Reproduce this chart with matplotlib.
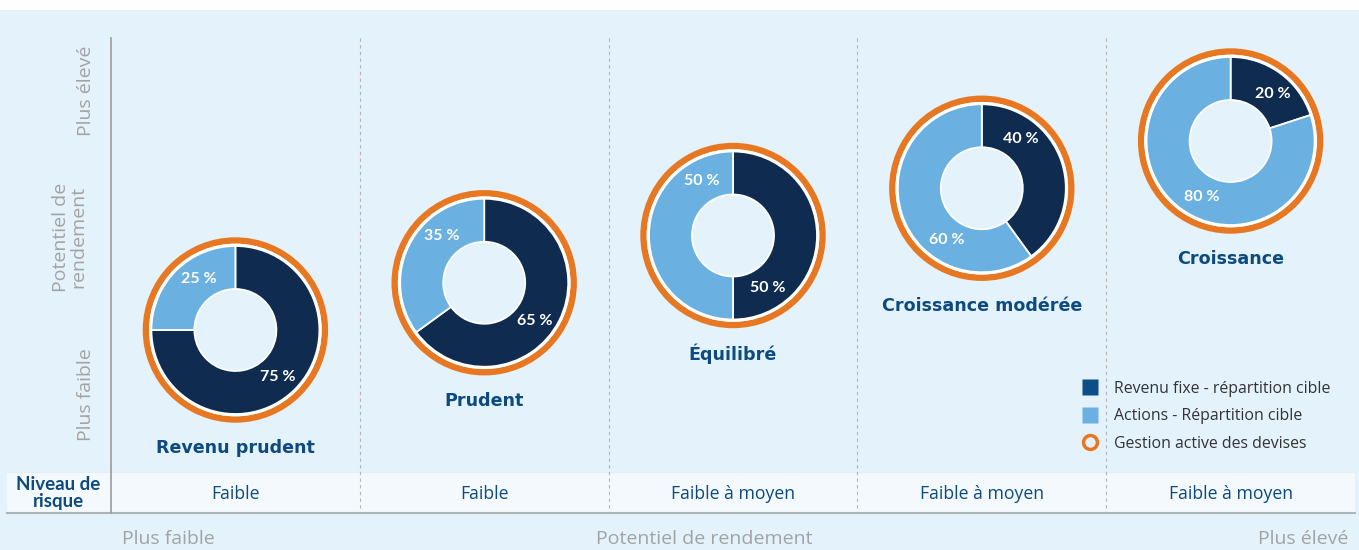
import matplotlib
matplotlib.use("Agg")
import matplotlib.pyplot as plt
import numpy as np
from matplotlib.patches import Circle, Rectangle
from matplotlib.lines import Line2D

# data
profiles = ["Revenu prudent", "Prudent", "Équilibré", "Croissance modérée", "Croissance"]
fixed_income = [75, 65, 50, 40, 20]   # Revenu fixe
equities = [25, 35, 50, 60, 80]       # Actions
risk_levels = ["Faible", "Faible", "Faible à moyen", "Faible à moyen", "Faible à moyen"]
legend_labels = ["Revenu fixe - répartition cible", "Actions - Répartition cible",
                 "Gestion active des devises"]

# where the % labels sit (degrees) for fixed income / equities
fixed_label_ang = [-48, -37, -56, 52, 48]
equity_label_ang = [126, 132, 120, 236, 243]

W, H = 1359, 550
DARK = "#0f2b50"
LIGHT = "#6ab0e0"
ORANGE = "#e87722"
BG = "#e3f2fb"
BLUE_TXT = "#0d4a80"
GRAY_TXT = "#a3a3a3"
BOLD_FONT = ["Lato", "DejaVu Sans"]

plt.rcParams['font.family'] = ['Open Sans', 'DejaVu Sans']

fig = plt.figure(figsize=(W / 100, H / 100), dpi=100)
fig.patch.set_facecolor("white")
ax = fig.add_axes([0, 0, 1, 1])


def Y(y):
    # pixel row -> data y
    return H - y


# background
ax.add_patch(Rectangle((0, 0), W, Y(10), facecolor=BG, edgecolor="none", zorder=0))

left, right = 111, 1355
colw = (right - left) / len(profiles)
top_y, row_top, row_bot = 38, 472, 513

# table row
ax.add_patch(Rectangle((7, Y(row_bot)), right - 7, row_bot - row_top,
                       facecolor="#f4f9fd", edgecolor="none", zorder=1))
ax.plot([7, right], [Y(row_top), Y(row_top)], color="#e6eef4", lw=0.8, zorder=2)
ax.plot([7, right], [Y(row_bot), Y(row_bot)], color="#aeb3b7", lw=1.5, zorder=3)

# axis line and dashed dividers
ax.plot([left, left], [Y(top_y), Y(row_bot)], color="#9b9b9b", lw=1.2, zorder=3)
for i in range(1, len(profiles)):
    x = left + colw * i
    ax.plot([x, x], [Y(top_y), Y(row_bot)], color="#b5b5b5", lw=0.8,
            ls=(0, (3, 3)), zorder=2)

# donuts
r_out, r_in = 84, 41
for i, name in enumerate(profiles):
    cx = left + colw * (i + 0.5)
    cy = 330 - 47.25 * i
    ax.add_patch(Circle((cx, Y(cy)), 89.5, facecolor="none", edgecolor=ORANGE,
                        lw=4.6, zorder=4))
    ax.add_patch(Circle((cx, Y(cy)), 85.2, facecolor="none", edgecolor="white",
                        lw=1.6, zorder=4))
    wedges, _ = ax.pie([fixed_income[i], equities[i]], colors=[DARK, LIGHT],
                       center=(cx, Y(cy)), radius=r_out, startangle=90,
                       counterclock=False, frame=True,
                       wedgeprops=dict(width=r_out - r_in, edgecolor="white", lw=1.3))
    for w in wedges:
        w.set_zorder(5)
    rl = 63
    for val, ang in [(fixed_income[i], fixed_label_ang[i]), (equities[i], equity_label_ang[i])]:
        a = np.deg2rad(ang)
        ax.text(cx + rl * np.cos(a), Y(cy) + rl * np.sin(a), f"{val} %",
                color="white", fontsize=11.5, fontweight="bold", family=BOLD_FONT,
                ha="center", va="center", zorder=6)
    ax.text(cx, Y(cy + 118), name, color=BLUE_TXT, fontsize=12.6, fontweight="bold",
            family=["DejaVu Sans"], ha="center", va="center", zorder=6)
    ax.text(cx, Y(494), risk_levels[i], color=BLUE_TXT, fontsize=12.7,
            ha="center", va="center", zorder=6)

ax.text(58, Y(493), "Niveau de\nrisque", color=BLUE_TXT, fontsize=13.5, fontweight="bold",
        family=BOLD_FONT, ha="center", va="center", linespacing=1.05, zorder=6)

# axis labels
ax.text(86, Y(91), "Plus élevé", color=GRAY_TXT, fontsize=14, rotation=90,
        ha="center", va="center")
ax.text(70, Y(237), "Potentiel de\nrendement", color=GRAY_TXT, fontsize=14, rotation=90,
        ha="center", va="center", linespacing=0.95)
ax.text(86, Y(395), "Plus faible", color=GRAY_TXT, fontsize=14, rotation=90,
        ha="center", va="center")
ax.text(168, Y(539), "Plus faible", color=GRAY_TXT, fontsize=14, ha="center", va="center")
ax.text(704, Y(539), "Potentiel de rendement", color=GRAY_TXT, fontsize=14,
        ha="center", va="center")
ax.text(1348, Y(539), "Plus élevé", color=GRAY_TXT, fontsize=14, ha="right", va="center")

# legend
handles = [
    Line2D([], [], marker="s", ls="none", markersize=11, markerfacecolor="#0d4e86",
           markeredgecolor="none"),
    Line2D([], [], marker="s", ls="none", markersize=11, markerfacecolor=LIGHT,
           markeredgecolor="none"),
    Line2D([], [], marker="o", ls="none", markersize=10, markerfacecolor="none",
           markeredgecolor=ORANGE, markeredgewidth=2.5),
]
leg = ax.legend(handles, legend_labels, loc="upper left",
                bbox_to_anchor=(1074 / W, 1 - 373 / H), frameon=False,
                fontsize=11.4, handlelength=1.0, handletextpad=1.0,
                labelspacing=0.72, borderpad=0)
for t in leg.get_texts():
    t.set_color("#333333")
leg.set_zorder(7)

ax.set_xlim(0, W)
ax.set_ylim(0, H)
ax.set_aspect("equal")
ax.axis("off")

fig.savefig("out.png", dpi=100, facecolor="white")
